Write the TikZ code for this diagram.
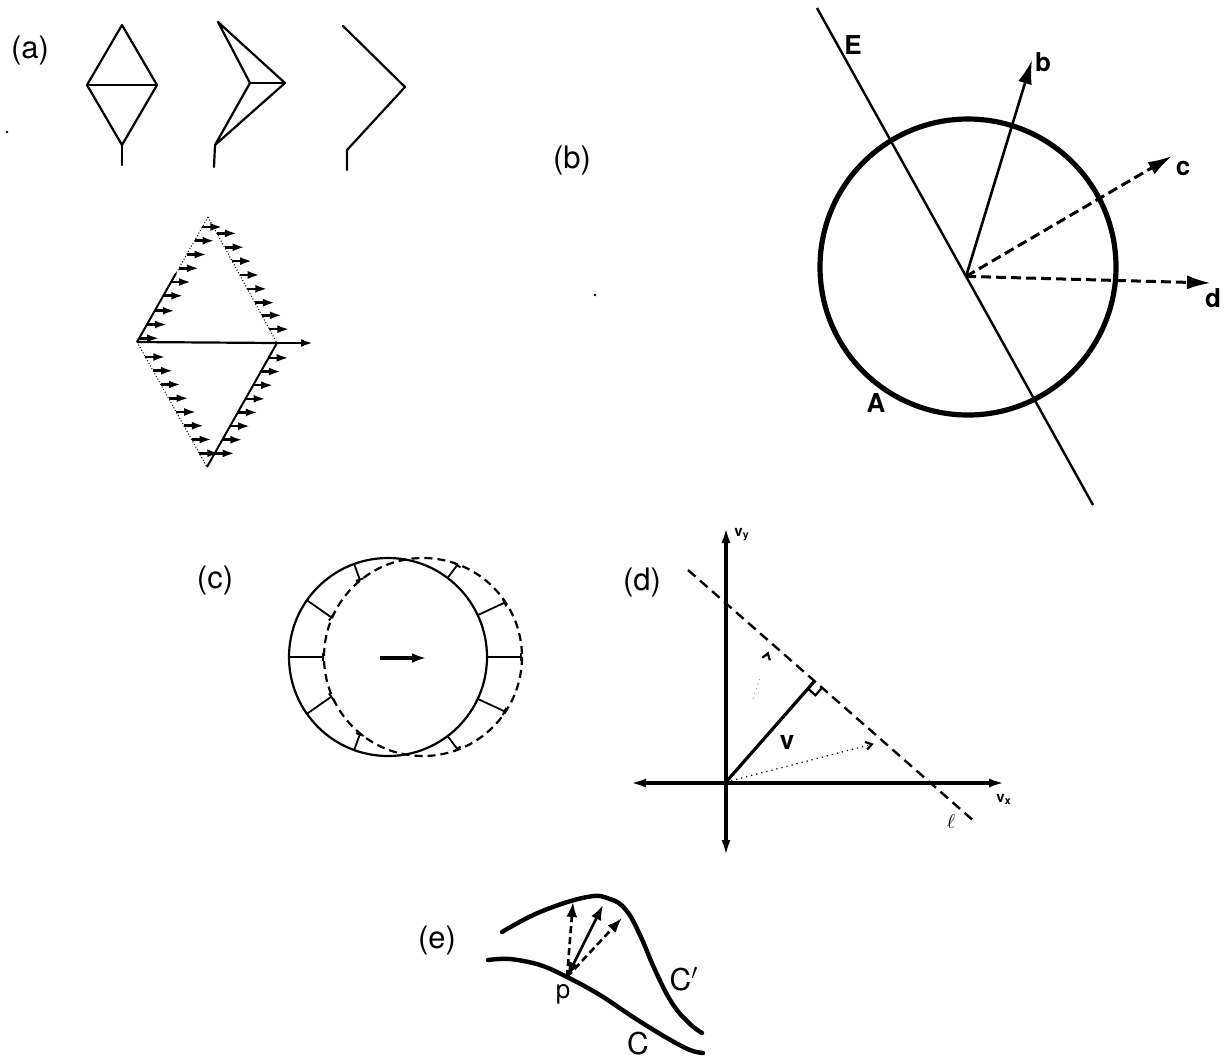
\documentclass[tikz,border=0pt]{standalone}
\usepackage{fontspec}
\setmainfont{TeX Gyre Heros}
\usetikzlibrary{arrows.meta,calc}
\begin{document}
\begin{tikzpicture}[x=0.5pt,y=-0.5pt,
  panel/.style={font=\fontsize{15.5}{15.5}\selectfont, inner sep=0pt},
  blbl/.style={font=\bfseries\fontsize{13}{13}\selectfont, inner sep=0pt},
  sm/.style={font=\bfseries\fontsize{7.5}{7.5}\selectfont, inner sep=0pt},
  wire/.style={line width=1.1pt, line join=round, line cap=round},
  thinedge/.style={line width=0.5pt, densely dotted},
  harr/.style={line width=1.3pt, -{Latex[length=6pt,width=4pt]}},
  ring/.style={line width=2.6pt},
  vecb/.style={line width=1.3pt, -{Latex[length=12pt,width=7pt]}},
  vecd/.style={line width=1.5pt, dash pattern=on 5pt off 2.5pt, -{Latex[length=12pt,width=7pt]}},
  circ/.style={line width=1.1pt},
  dcirc/.style={line width=1.1pt, dash pattern=on 4pt off 2.5pt},
  disp/.style={line width=0.9pt, -{Bar[width=4pt,line width=1pt]}},
  axis/.style={line width=1.8pt, {Latex[length=8pt,width=4.5pt]}-{Latex[length=8pt,width=4.5pt]}},
  lline/.style={line width=1.2pt, dash pattern=on 5pt off 3pt},
  curve/.style={line width=2.2pt, line cap=round},
  earr/.style={line width=1.3pt, -{Latex[length=7.5pt,width=5.5pt]}},
  edarr/.style={earr, dash pattern=on 3.5pt off 2pt},
  speck/.style={fill=black},
]
\useasboundingbox (0,0) rectangle (1225,1061);

% ---------------- (a) ----------------
\node[panel] (la) at (30,50) {(a)};
\coordinate (a1t) at (122,25); \coordinate (a1l) at (87,85);
\coordinate (a1r) at (157,85); \coordinate (a1b) at (122,145);
\coordinate (a1s) at (122,165);
\draw[wire] (a1t) -- (a1r) -- (a1b) -- (a1l) -- cycle;
\draw[wire] (a1l) -- (a1r);
\draw[wire] (a1b) -- (a1s);

\coordinate (a2t) at (218,22); \coordinate (a2m) at (250,83);
\coordinate (a2r) at (285,83); \coordinate (a2b) at (215,145);
\coordinate (a2s) at (214,167);
\draw[wire] (a2t) -- (a2r) -- (a2b) -- (a2m) -- cycle;
\draw[wire] (a2m) -- (a2r);
\draw[wire] (a2b) -- (a2s);

\coordinate (a3t) at (343,26); \coordinate (a3r) at (405,87);
\coordinate (a3b) at (347,150); \coordinate (a3s) at (347,170);
\draw[wire] (a3t) -- (a3r) -- (a3b) -- (a3s);

\fill[speck] (7,132) circle (1.3);

% diamond with arrows
\coordinate (T) at (208,217); \coordinate (L) at (137,342);
\coordinate (R) at (277,343); \coordinate (B) at (207,467);
\draw[thinedge] (T) -- ($(T)!0.45!(L)$);
\draw[line width=1pt] ($(T)!0.45!(L)$) -- (L);
\draw[thinedge] (T) -- (R);
\draw[thinedge] (L) -- (B);
\draw[line width=1pt] (R) -- (B);
\draw[line width=1.1pt] (L) -- (R);
\coordinate (Rend) at (313,343);
\draw[harr] (R) -- (Rend);
\foreach \t in {0.08,0.19,0.30,0.41,0.52,0.63,0.75,0.86,0.97}
  \draw[harr] ($(T)!\t!(L)$) -- ++(20,0);
\foreach \t in {0.13,0.24,0.35,0.46,0.57,0.68,0.78,0.89}
  \draw[harr] ($(T)!\t!(R)$) -- ++(20,0);
\foreach \t in {0.12,0.23,0.34,0.45,0.56,0.67,0.78,0.89}
  \draw[harr] ($(R)!\t!(B)$) -- ++(20,0);
\foreach \t in {0.12,0.23,0.34,0.45,0.56,0.67,0.78,0.89}
  \draw[harr] ($(L)!\t!(B)$) -- ++(20,0);

% ---------------- (b) ----------------
\node[panel] (lb) at (572,160) {(b)};
\fill[speck] (595,295) circle (1.3);
\draw[ring] (968,267) circle (148);
\coordinate (E1) at (817,8); \coordinate (E2) at (1093,505);
\draw[line width=1.2pt] (E1) -- (E2);
\coordinate (O) at ($(E1)!0.54!(E2)$);
\coordinate (tb) at (1032,60);
\coordinate (tc) at (1172,156);
\coordinate (td) at (1211,283);
\draw[vecb] (O) -- (tb);
\draw[vecd] (O) -- (tc);
\draw[vecd] (O) -- (td);
\node[blbl] (nE) at (853,45) {E};
\node[blbl] (nb) at (1043,62) {b};
\node[blbl] (nc) at (1183,168) {c};
\node[blbl] (nd) at (1213,298) {d};
\node[blbl] (nA) at (876,403) {A};

% ---------------- (c) ----------------
\node[panel] (lc) at (215,580) {(c)};
\coordinate (S) at (388,657); \coordinate (D) at (423,657);
\draw[circ] (S) circle (99);
\draw[dcirc] (D) circle (99);
\foreach \a/\r in {180/32, 145/34.1, -145/34.1, 110/40.7, -110/40.7,
                   0/67, 25/64.8, -25/64.8, 53/58.05, -53/58.05}
  \draw[disp] ($(S)+(\a:49.5pt)$) -- ($(S)+(\a:\r pt)$);
\coordinate (ca1) at (380,658); \coordinate (ca2) at (426,658);
\draw[line width=1.9pt, -{Latex[length=7pt,width=5pt]}] (ca1) -- (ca2);

% ---------------- (d) ----------------
\node[panel] (ld) at (642,582) {(d)};
\coordinate (O2) at (726,782);
\coordinate (xl) at (630,783); \coordinate (xr) at (1005,783);
\coordinate (yb) at (726,856); \coordinate (yt) at (726,527);
\draw[axis] (xl) -- (xr);
\draw[axis] (yb) -- (yt);
\node[sm] (nvy) at (742,535) {v\textsubscript{y}};
\node[sm] (nvx) at (1004,799) {v\textsubscript{x}};
\coordinate (L1) at (688,570); \coordinate (L2) at (975,822);
\draw[lline] (L1) -- (L2);
\node[font=\fontsize{10}{10}\selectfont, inner sep=0pt] (nl) at (951,822) {$\ell$};
\coordinate (F) at ($(L1)!(O2)!(L2)$);
\draw[line width=1.6pt] (O2) -- (F);
\coordinate (Fa) at ($(F)!5pt!(O2)$);
\coordinate (Fb) at ($(F)!5pt!(L2)$);
\draw[line width=1.1pt] (Fa) -- ($(Fa)+(Fb)-(F)$) -- (Fb);
\node[blbl] (nv) at (787,742) {v};
\coordinate (Q1) at ($(L1)!0.29!(L2)$);
\coordinate (Q2) at ($(L1)!0.68!(L2)$);
\draw[line width=0.6pt, dotted, -{Straight Barb[length=3pt,width=4pt,line width=1.1pt]}]
  (O2) -- ($(O2)!0.94!(Q2)$);
\draw[line width=0.5pt, dotted, black!45] ($(O2)!0.6!(Q1)$) -- ($(O2)!0.74!(Q1)$);
\draw[line width=0.1pt, -{Straight Barb[length=3pt,width=4pt,line width=1.1pt]}]
  ($(O2)!0.9!(Q1)$) -- ($(O2)!0.94!(Q1)$);

% ---------------- (e) ----------------
\node[panel] (le) at (437,940) {(e)};
\coordinate (P) at (567,977);
\draw[curve] plot[smooth, tension=0.6] coordinates {(488,960) (510,959) (540,965) (P) (600,995) (633,1017) (667,1038) (690,1050) (703,1053)};
\draw[curve] plot[smooth, tension=0.7] coordinates {(502,932) (540,912) (587,897) (610,899) (626,910) (640,935) (655,970) (672,1003) (689,1023) (702,1033)};
\coordinate (e1) at (573,902); \coordinate (e2) at (603,905); \coordinate (e3) at (622,918);
\draw[edarr] (P) -- (e1);
\draw[earr, {Latex[length=7.5pt,width=5.5pt]}-{Latex[length=7.5pt,width=5.5pt]}] (P) -- (e2);
\draw[edarr] (P) -- (e3);
\node[blbl, font=\fontsize{13}{13}\selectfont] (np) at (563,994) {p};
\node[blbl, font=\fontsize{15}{15}\selectfont] (nC2) at (684,979) {C$'$};
\node[blbl, font=\fontsize{15}{15}\selectfont] (nC) at (638,1044) {C};
\end{tikzpicture}
\end{document}
